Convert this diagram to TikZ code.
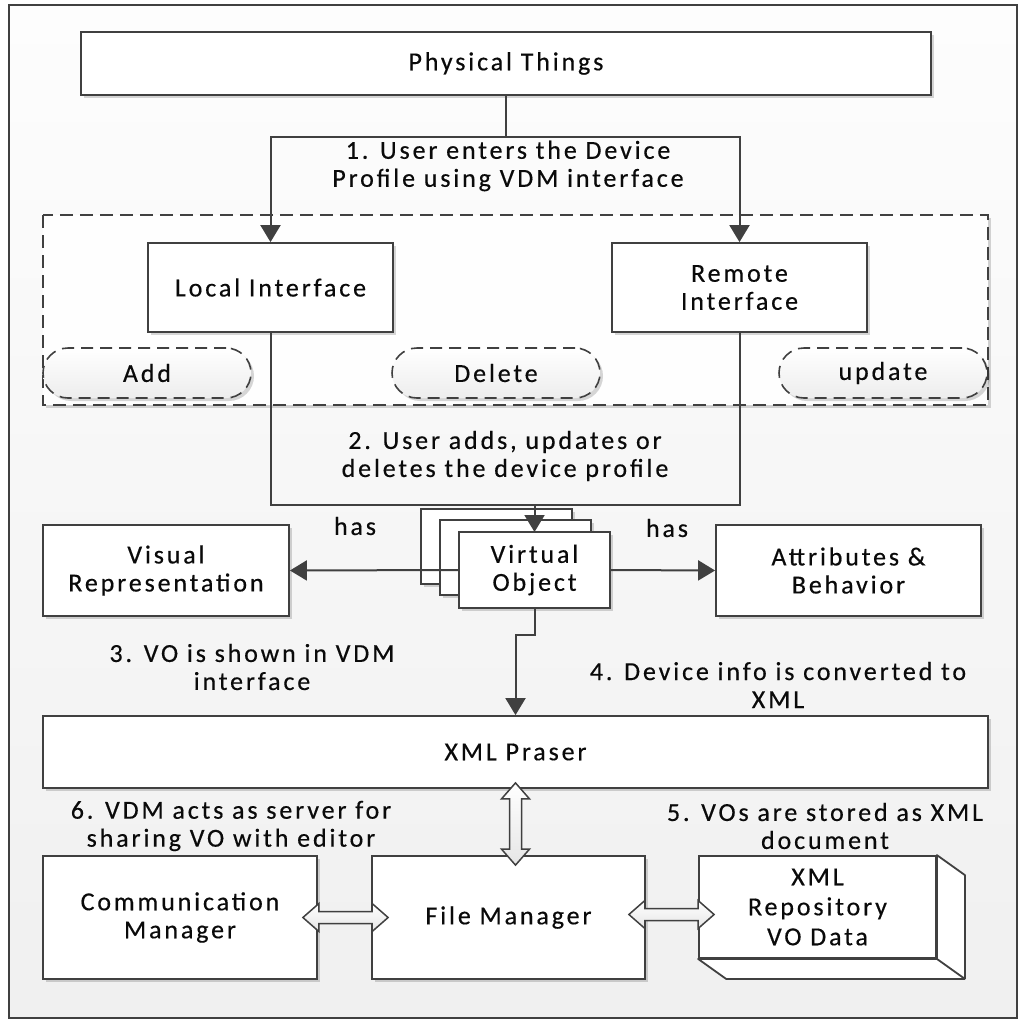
\documentclass[tikz,border=0pt]{standalone}
\usepackage{fontspec}
\setmainfont{Carlito}[LetterSpace=11,FakeBold=0.4]
\usetikzlibrary{arrows.meta,calc,shadows}
\definecolor{ink}{HTML}{404040}
\definecolor{txt}{HTML}{0A0A0A}
\definecolor{bgtop}{HTML}{FDFDFD}
\definecolor{bgbot}{HTML}{F0F0F0}

\begin{document}
\begin{tikzpicture}[x=1pt,y=-1pt,
  every node/.style={font=\fontsize{26}{28}\selectfont, text=txt, align=center, inner sep=0pt},
  softshadow/.style={drop shadow={shadow xshift=3pt,shadow yshift=-3pt,opacity=0.16,fill=black}},
  box/.style={rectangle, draw=ink, line width=1.8pt, fill=white, softshadow},
  pill/.style={rectangle, draw=ink, line width=1.6pt, dash pattern=on 12pt off 7pt,
    rounded corners=25pt, top color=white, bottom color=gray!14, softshadow},
  group/.style={draw=ink, line width=1.6pt, dash pattern=on 13pt off 7pt, softshadow},
  link/.style={draw=ink, line width=2pt},
  arr/.style={link, -{Triangle[length=17pt,width=20pt]}},
  blk/.style={draw=ink, line width=1.5pt, top color=white, bottom color=gray!20, line join=miter},
  lbl/.style={}
]
\useasboundingbox (0,0) rectangle (1025,1020);

% outer frame with soft background
\draw[draw=ink, line width=1.8pt, top color=bgtop, bottom color=bgbot] (9,5) rectangle (1017,1018);

% interface group
\draw[group, fill=white!60!bgtop] (43,215) rectangle (988,405);
\node[pill, minimum width=208pt, minimum height=50pt] (add) at (147,373) {Add};
\node[pill, minimum width=208pt, minimum height=50pt] (del) at (496,373) {Delete};
\node[pill, minimum width=208pt, minimum height=50pt] (upd) at (883,373) {update};

% top level
\node[box, minimum width=850pt, minimum height=63pt] (phys) at (506,63.5) {Physical Things};
\node[box, minimum width=245pt, minimum height=89pt] (local) at (270.5,287.5) {Local Interface};
\node[box, minimum width=255pt, minimum height=89pt] (remote) at (739.5,287.5) {Remote\\Interface};

\coordinate (j1) at (506,137);
\draw[link] (phys.south) -- (j1);
\draw[arr] (j1) -| (local.north);
\draw[arr] (j1) -| (remote.north);
\node[lbl] (lab1) at (508,166) {1. User enters the Device\\Profile using VDM interface};

% virtual object stack
\node[box, minimum width=151pt, minimum height=75pt] (vob) at (496.5,546.5) {};
\node[box, minimum width=151pt, minimum height=75pt] (vom) at (515.5,557.5) {};
\coordinate (j2) at (534.5,505);
\draw[link] (local.south) |- (j2) -| (remote.south);
\draw[arr] (j2) -- (534.5,532);
\node[box, minimum width=151pt, minimum height=76pt] (vo) at (534.5,570) {Virtual\\Object};
\node[lbl] (lab2) at (505,456) {2. User adds, updates or\\deletes the device profile};

% attached views
\node[box, minimum width=246pt, minimum height=91pt] (vis) at (166,570.5) {Visual\\Representation};
\node[box, minimum width=265pt, minimum height=91pt] (attr) at (848.5,570.5) {Attributes \&\\Behavior};
\draw[arr] (vo.west) -- (vis.east);
\draw[arr] (vo.east) -- (attr.west);
\node[lbl] (has1) at (355,526) {has};
\node[lbl] (has2) at (667,528) {has};

% parser
\node[box, minimum width=945pt, minimum height=72pt] (xml) at (515.5,752) {XML Praser};
\draw[arr] (vo.south) -- ++(0,26) -| (xml.north);
\node[lbl] (lab3) at (252,667) {3. VO is shown in VDM\\interface};
\node[lbl] (lab4) at (778,685) {4. Device info is converted to\\XML};

% storage and communication
\node[box, minimum width=274pt, minimum height=123pt] (comm) at (180,917.5) {Communication\\Manager};
\node[box, minimum width=273pt, minimum height=123pt] (fm) at (508.5,917.5) {File Manager};
\node[box, minimum width=237pt, minimum height=102pt] (repo) at (817.5,907) {};
\draw[draw=ink, line width=1.8pt, fill=white, line join=round]
  (repo.north east) -- ++(28,20) |- ($(repo.south west)+(28,20)$) -- (repo.south west)
  -- (repo.south east) -- cycle;
\draw[link, line width=1.8pt] (repo.south east) -- ++(28,20);
\node (repotxt) at (repo.center) {XML\\[2pt]Repository\\[2pt]VO Data};

\node[lbl] (lab5) at (825,826) {5. VOs are stored as XML\\document};
\node[lbl] (lab6) at (231,826) {6. VDM acts as server for\\sharing VO with editor};

% two-way block arrows
\coordinate (va) at ($(xml.south)+(0,-6)$);
\coordinate (vb) at ($(xml.south |- fm.north)+(0,10)$);
\draw[blk] (va) -- ($(va)+(14,16)$) -- ($(va)+(6,16)$) -- ($(vb)+(6,-16)$) -- ($(vb)+(14,-16)$)
  -- (vb) -- ($(vb)+(-14,-16)$) -- ($(vb)+(-6,-16)$) -- ($(va)+(-6,16)$) -- ($(va)+(-14,16)$) -- cycle;

\coordinate (ha) at ($(comm.east)+(-15,0)$);
\coordinate (hb) at ($(fm.west)+(17,0)$);
\draw[blk] (ha) -- ($(ha)+(16,-14)$) -- ($(ha)+(16,-6)$) -- ($(hb)+(-16,-6)$) -- ($(hb)+(-16,-14)$)
  -- (hb) -- ($(hb)+(-16,14)$) -- ($(hb)+(-16,6)$) -- ($(ha)+(16,6)$) -- ($(ha)+(16,14)$) -- cycle;

\coordinate (ra) at ($(fm.east)+(-17,-3)$);
\coordinate (rb) at ($(repo.west |- ra)+(16,0)$);
\draw[blk] (ra) -- ($(ra)+(16,-14)$) -- ($(ra)+(16,-6)$) -- ($(rb)+(-16,-6)$) -- ($(rb)+(-16,-14)$)
  -- (rb) -- ($(rb)+(-16,14)$) -- ($(rb)+(-16,6)$) -- ($(ra)+(16,6)$) -- ($(ra)+(16,14)$) -- cycle;
\end{tikzpicture}
\end{document}
